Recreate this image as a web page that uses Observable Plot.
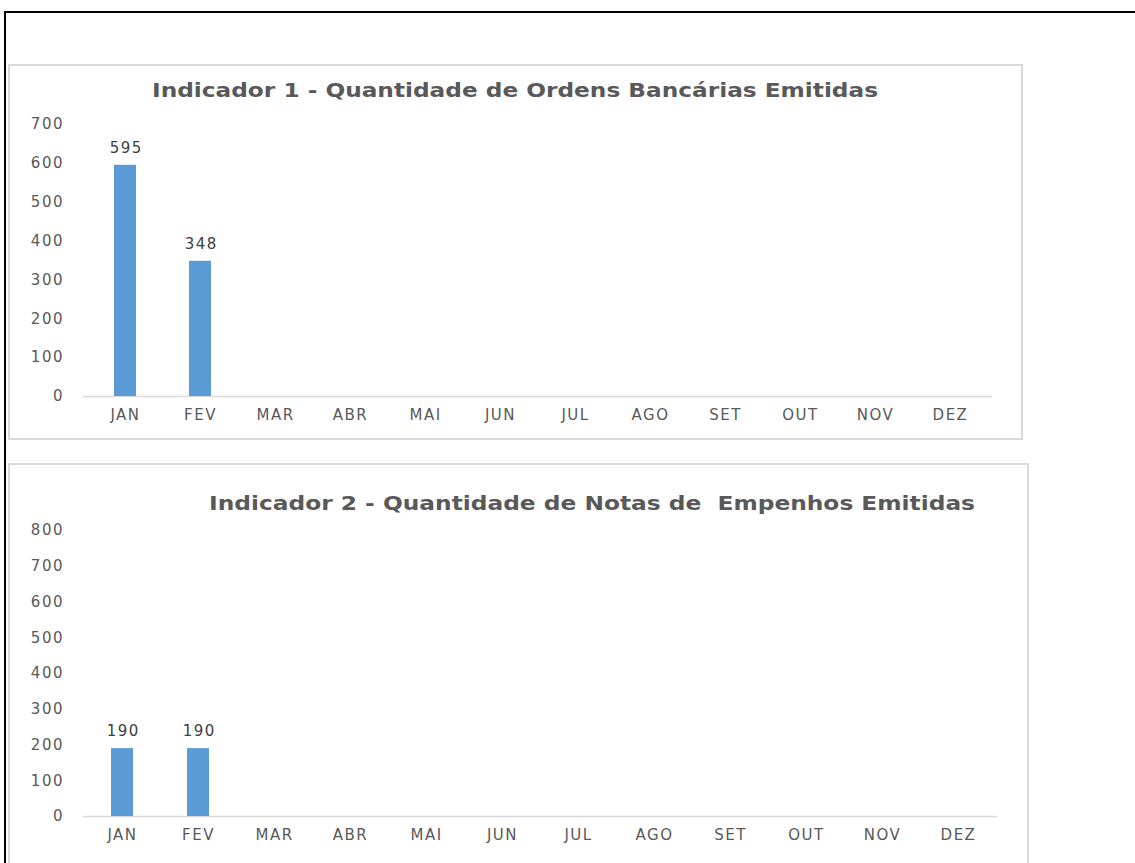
<!DOCTYPE html>
<html>
<head>
<meta charset="utf-8">
<script src="https://cdn.jsdelivr.net/npm/d3@7"></script>
<script src="https://cdn.jsdelivr.net/npm/@observablehq/plot@0.6"></script>
<style>
  html, body { margin: 0; padding: 0; background: #fff; }
  body { width: 1135px; height: 863px; position: relative; overflow: hidden; font-family: "DejaVu Sans", sans-serif; }
  #outer { position: absolute; left: 4px; top: 11px; width: 1200px; height: 900px; border-left: 2px solid #000; border-top: 2px solid #000; box-sizing: border-box; }
  .panel { position: absolute; border: 2px solid #d9d9d9; box-sizing: border-box; background: #fff; }
  .title { position: absolute; white-space: pre; font-weight: bold; color: #595959; font-family: "DejaVu Sans", sans-serif; font-size: 20px; line-height: 1; }
  .chart { position: absolute; }
  .chart svg text { letter-spacing: 1.5px; }
</style>
</head>
<body>
<div id="outer"></div>
<div class="panel" style="left:8px; top:64px; width:1015px; height:376px;"></div>
<div class="panel" style="left:8px; top:463px; width:1021px; height:420px;"></div>
<div id="c1" class="chart" style="left:10px; top:66px;"></div>
<div id="c2" class="chart" style="left:10px; top:465px;"></div>
<div id="t1" class="title"></div>
<div id="t2" class="title"></div>
<script>
const months = ["JAN","FEV","MAR","ABR","MAI","JUN","JUL","AGO","SET","OUT","NOV","DEZ"];
const ordensValues = [595, 348, null, null, null, null, null, null, null, null, null, null];
const empenhosValues = [190, 190, null, null, null, null, null, null, null, null, null, null];
const title1 = "Indicador 1 - Quantidade de Ordens Bancárias Emitidas";
const title2 = "Indicador 2 - Quantidade de Notas de  Empenhos Emitidas";
const yTicks1 = [0,100,200,300,400,500,600,700];
const yTicks2 = [0,100,200,300,400,500,600,700,800];

function placeTitle(id, text, left, right, cy) {
  const el = document.getElementById(id);
  el.textContent = text;
  const w = el.getBoundingClientRect().width;
  const h = el.getBoundingClientRect().height;
  const s = (right - left) / w;
  el.style.left = left + "px";
  el.style.top = (cy - h / 2) + "px";
  el.style.transformOrigin = "0 50%";
  el.style.transform = `scaleX(${s})`;
}
placeTitle("t1", title1, 152, 878, 90);
placeTitle("t2", title2, 209, 975, 503);

function makeChart(values, ticks, opts) {
  const data = months.map((m, i) => ({month: m, value: values[i]})).filter(d => d.value != null);
  return Plot.plot({
    width: opts.width,
    height: opts.height,
    marginLeft: opts.marginLeft,
    marginRight: opts.marginRight,
    marginTop: opts.marginTop,
    marginBottom: opts.marginBottom,
    style: {fontFamily: "DejaVu Sans, sans-serif", fontSize: "15px", color: "#595959", background: "transparent"},
    x: {domain: months, paddingInner: 0.71, paddingOuter: 0.355, align: 0.5, label: null, tickSize: 0, tickPadding: 13, tickFormat: d => d},
    y: {domain: [ticks[0], ticks[ticks.length-1]], ticks: ticks, label: null, tickSize: 0, tickPadding: 19.5},
    marks: [
      Plot.ruleY([0], {stroke: "#d9d9d9", strokeWidth: 1.5}),
      Plot.barY(data, {x: "month", y: "value", fill: "#5b9bd5"}),
      Plot.text(data, {x: "month", y: "value", text: d => String(d.value), dy: -17, dx: 0.75, fill: "#404040", fontSize: 15})
    ]
  });
}

document.getElementById("c1").appendChild(makeChart(ordensValues, yTicks1, {width: 1010, height: 370, marginLeft: 73, marginRight: 28, marginTop: 58, marginBottom: 40}));
document.getElementById("c2").appendChild(makeChart(empenhosValues, yTicks2, {width: 1016, height: 398, marginLeft: 73, marginRight: 29, marginTop: 65, marginBottom: 47}));
</script>
</body>
</html>
